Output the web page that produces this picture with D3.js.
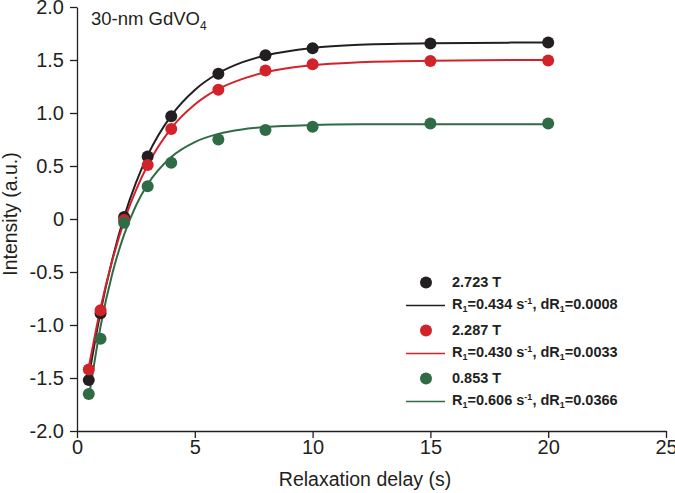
<!DOCTYPE html>
<html>
<head>
<meta charset="utf-8">
<script src="https://cdnjs.cloudflare.com/ajax/libs/d3/7.8.5/d3.min.js"></script>
<style>
  body { margin: 0; background: #fff; }
  svg { display: block; font-family: "Liberation Sans", Arial, sans-serif; }
  .axis text { font-size: 20px; fill: #231f20; }
  .axis path, .axis line { stroke: #231f20; stroke-width: 1.3; }
</style>
</head>
<body>
<svg id="chart" width="675" height="493"></svg>
<script>
// measured points
var delays = [0.5, 1, 2, 3, 4, 6, 8, 10, 15, 20];
var black = [-1.52, -0.89, 0.02, 0.59, 0.97, 1.37, 1.545, 1.61, 1.655, 1.665];
var red = [-1.42, -0.86, -0.01, 0.51, 0.85, 1.22, 1.40, 1.46, 1.49, 1.495];
var green = [-1.65, -1.13, -0.035, 0.31, 0.53, 0.75, 0.84, 0.87, 0.90, 0.90];

// fitted curves
var fitT = [0.5, 1, 1.5, 2, 2.5, 3, 4, 5, 6, 7, 8, 10, 12, 15, 20];
var blackFit = [-1.49, -0.875, -0.38, 0.02, 0.34, 0.60, 0.975, 1.218, 1.375, 1.477, 1.543, 1.614, 1.644, 1.659, 1.665];
var redFit = [-1.40, -0.84, -0.39, -0.02, 0.27, 0.51, 0.856, 1.08, 1.227, 1.32, 1.385, 1.451, 1.479, 1.494, 1.50];
var greenFit = [-1.69, -1.014, -0.515, -0.147, 0.125, 0.327, 0.585, 0.726, 0.803, 0.845, 0.868, 0.887, 0.893, 0.895, 0.895];

var fields = ["2.723 T", "2.287 T", "0.853 T"];
var rates = ["0.434", "0.430", "0.606"];
var errs = ["0.0008", "0.0033", "0.0366"];
var colors = ["#231f20", "#d2232a", "#2f6b45"];

var xTicks = [0, 5, 10, 15, 20, 25];
var yTicks = [-2, -1.5, -1, -0.5, 0, 0.5, 1, 1.5, 2];

var svg = d3.select("#chart");
var margin = {left: 77, top: 7, right: 9, bottom: 62};

var xScale = d3.scaleLinear().domain([0, 25]).range([margin.left, 675 - margin.right]);
var yScale = d3.scaleLinear().domain([-2, 2]).range([431, margin.top]);

var xAxisCall = d3.axisBottom(xScale).tickValues(xTicks).tickSize(7).tickSizeOuter(0).tickPadding(2)
  .tickFormat(d3.format("d"));
var yAxisCall = d3.axisLeft(yScale).tickValues(yTicks).tickSize(7).tickSizeOuter(0).tickPadding(6)
  .tickFormat(function(d) { return d === 0 ? "0" : d3.format(".1f")(d).replace("\u2212", "-"); });

svg.append("g")
  .attr("class", "x axis")
  .attr("transform", "translate(0," + yScale(-2) + ")")
  .call(xAxisCall);

svg.append("g")
  .attr("class", "y axis")
  .attr("transform", "translate(" + margin.left + ",0)")
  .call(yAxisCall);

svg.selectAll(".axis .domain").attr("stroke-width", 1.6);

svg.append("text")
  .attr("transform", "translate(" + [17, 214] + ")rotate(-90)")
  .attr("text-anchor", "middle")
  .attr("font-size", 19.5)
  .attr("fill", "#231f20")
  .text("Intensity (a.u.)");

svg.append("text")
  .attr("x", 365)
  .attr("y", 486)
  .attr("text-anchor", "middle")
  .attr("font-size", 19.5)
  .attr("fill", "#231f20")
  .text("Relaxation delay (s)");

var title = svg.append("text")
  .attr("x", 91)
  .attr("y", 24.5)
  .attr("font-size", 18.5)
  .attr("fill", "#231f20");
title.append("tspan").text("30-nm GdVO");
title.append("tspan").attr("font-size", 12).attr("dy", 5).text("4");

var line = d3.line()
  .x(function(d) { return xScale(d[0]); })
  .y(function(d) { return yScale(d[1]); })
  .curve(d3.curveMonotoneX);

var fits = [blackFit, redFit, greenFit];
var series = [black, red, green];

fits.forEach(function(f, i) {
  svg.append("path")
    .datum(fitT.map(function(t, j) { return [t, f[j]]; }))
    .attr("fill", "none")
    .attr("stroke", colors[i])
    .attr("stroke-width", 2)
    .attr("d", line);
});

series.forEach(function(s, i) {
  svg.append("g").selectAll("circle")
    .data(delays.map(function(t, j) { return [t, s[j]]; }))
    .enter().append("circle")
    .attr("cx", function(d) { return xScale(d[0]); })
    .attr("cy", function(d) { return yScale(d[1]); })
    .attr("r", 6)
    .attr("fill", colors[i]);
});

// legend
var legend = svg.append("g").attr("transform", "translate(406,282.5)");
fields.forEach(function(name, i) {
  var g = legend.append("g").attr("transform", "translate(0," + (i * 48) + ")");
  g.append("circle").attr("cx", 20).attr("cy", 0).attr("r", 6).attr("fill", colors[i]);
  g.append("text").attr("x", 46).attr("y", 4.5).attr("font-size", 14.5).attr("font-weight", "bold")
    .attr("fill", "#231f20").text(name);
  g.append("line").attr("x1", 0).attr("x2", 39).attr("y1", 23).attr("y2", 23)
    .attr("stroke", colors[i]).attr("stroke-width", 1.6);
  var t = g.append("text").attr("x", 46).attr("y", 26).attr("font-size", 14.5).attr("font-weight", "bold")
    .attr("fill", "#231f20");
  t.append("tspan").text("R");
  t.append("tspan").attr("font-size", 9).attr("dy", 3).text("1");
  t.append("tspan").attr("dy", -3).text("=" + rates[i] + " s");
  t.append("tspan").attr("font-size", 9).attr("dy", -5).text("-1");
  t.append("tspan").attr("dy", 5).text(", dR");
  t.append("tspan").attr("font-size", 9).attr("dy", 3).text("1");
  t.append("tspan").attr("dy", -3).text("=" + errs[i]);
});
</script>
</body>
</html>
